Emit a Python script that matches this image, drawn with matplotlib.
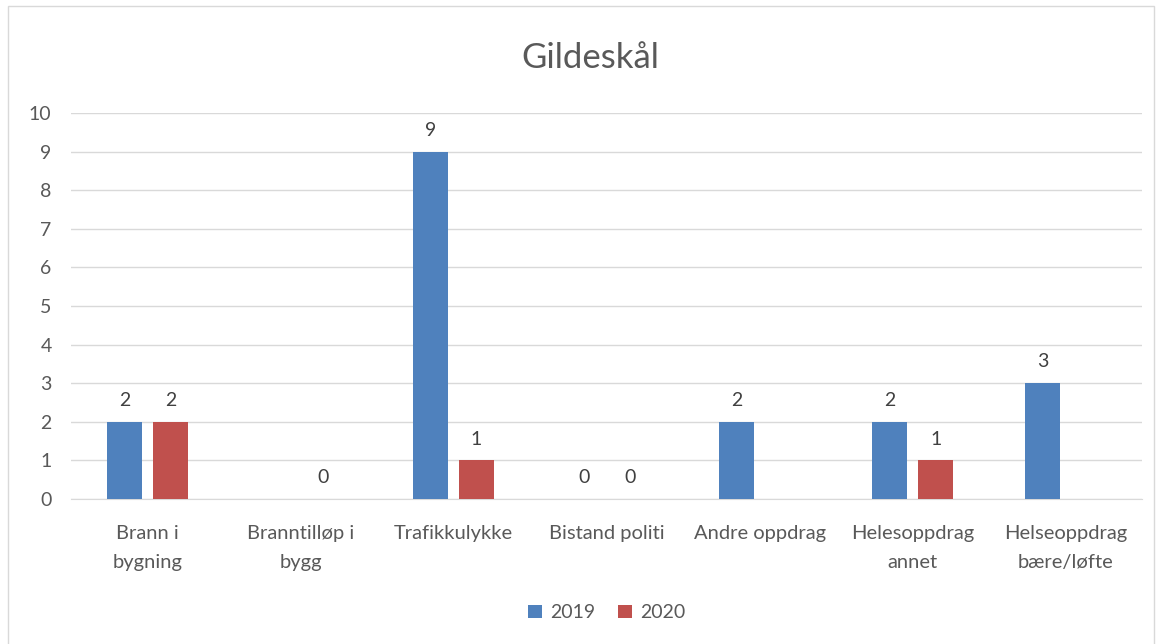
import numpy as np
import matplotlib
matplotlib.use("Agg")
from matplotlib import pyplot as plt
from matplotlib.patches import Rectangle

categories = ["Brann i\nbygning", "Branntilløp i\nbygg", "Trafikkulykke", "Bistand politi",
              "Andre oppdrag", "Helesoppdrag\nannet", "Helseoppdrag\nbære/løfte"]
# nan = no bar / no label in the original
values_2019 = [2, np.nan, 9, 0, 2, 2, 3]
values_2020 = [2, 0, 1, 0, np.nan, 1, np.nan]
series_names = ["2019", "2020"]
colors = ["#4F81BD", "#C0504D"]

plt.rcParams['font.family'] = ['Lato', 'DejaVu Sans']
text_col = "#595959"

fig = plt.figure(figsize=(11.62, 6.44), dpi=100)
ax = fig.add_axes([0.0611, 0.2252, 0.922, 0.5993])

x = np.arange(len(categories))
w = 0.23
off = 0.15
for i, (vals, name, col) in enumerate(zip([values_2019, values_2020], series_names, colors)):
    xs = x + (-off if i == 0 else off)
    v = np.array(vals, dtype=float)
    ax.bar(xs, np.nan_to_num(v), width=w, color=col, label=name, zorder=3)
    for xi, vi in zip(xs, v):
        if not np.isnan(vi):
            ax.text(xi, vi + 0.33, f"{int(vi)}", ha="center", va="bottom",
                    fontsize=14, color="#404040")

ax.set_xlim(-0.5, len(categories) - 0.5)
ax.set_ylim(0, 10)
ax.set_yticks(range(0, 11))
ax.yaxis.grid(True, color="#D9D9D9", linewidth=1, zorder=0)
ax.set_axisbelow(True)
for s in ["top", "right", "left"]:
    ax.spines[s].set_visible(False)
ax.spines["bottom"].set_color("#D9D9D9")
ax.tick_params(axis="both", length=0, labelsize=14, colors=text_col)
ax.tick_params(axis="y", pad=14)
ax.tick_params(axis="x", pad=19)
ax.set_xticks(x)
ax.set_xticklabels(categories, linespacing=1.8, fontsize=14.5)

fig.text(0.508, 0.91, "Gildeskål", ha="center", va="center", fontsize=25, color=text_col)

ax.legend(loc="center", bbox_to_anchor=(0.5, -0.295), ncol=2, frameon=False,
          fontsize=14, labelcolor=text_col, handlelength=0.7, handleheight=0.7,
          columnspacing=1.2, handletextpad=0.4)

fig.patches.append(Rectangle((0.007, -0.01), 0.986, 1.0, transform=fig.transFigure,
                             fill=False, edgecolor="#D9D9D9", linewidth=1))

plt.savefig("out.png", dpi=100)
